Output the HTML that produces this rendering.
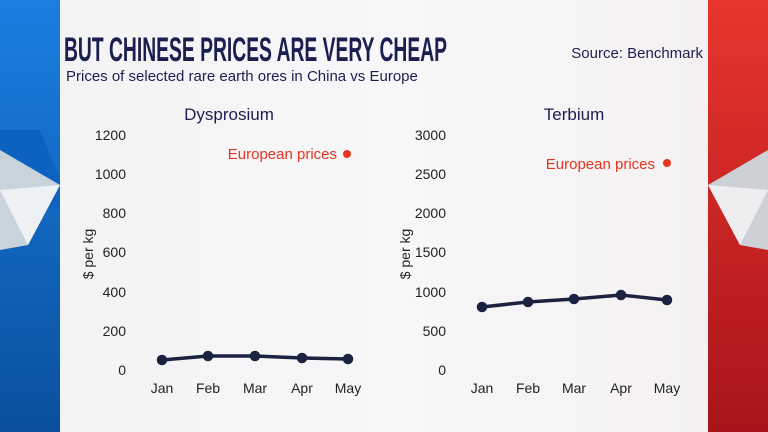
<!DOCTYPE html>
<html><head><meta charset="utf-8"><style>
body{margin:0;width:768px;height:432px;overflow:hidden;font-family:"Liberation Sans",sans-serif;}
.bg{position:absolute;left:0;top:0;width:768px;height:432px;}
</style></head><body>
<svg class="bg" width="768" height="432" viewBox="0 0 768 432">
<defs>
<linearGradient id="bl" x1="0" y1="0" x2="0" y2="1"><stop offset="0" stop-color="#1a7fe0"/><stop offset="1" stop-color="#0a4f9e"/></linearGradient>
<linearGradient id="rd" x1="0" y1="0" x2="0" y2="1"><stop offset="0" stop-color="#e8352e"/><stop offset="1" stop-color="#a8141a"/></linearGradient>
<linearGradient id="pn" x1="0" y1="0" x2="1" y2="0"><stop offset="0" stop-color="#f3f3f4"/><stop offset="0.5" stop-color="#f7f7f9"/><stop offset="1" stop-color="#f5f1f2"/></linearGradient>
</defs>
<rect x="0" y="0" width="60" height="432" fill="url(#bl)"/>
<polygon points="0,130 40,130 60,180 60,210 30,200 0,220" fill="#0d62c0"/>
<polygon points="0,150 60,185 28,245 0,250" fill="#c9d3dc"/>
<polygon points="0,190 60,185 28,245" fill="#eef1f4"/>
<rect x="708" y="0" width="60" height="432" fill="url(#rd)"/>
<polygon points="768,150 708,185 740,245 768,250" fill="#cdd0d4"/>
<polygon points="768,190 708,185 740,245" fill="#eeeef0"/>
<rect x="60" y="0" width="648" height="432" fill="url(#pn)"/>
<text x="64" y="61" font-family="Liberation Sans Narrow, Liberation Sans, sans-serif" font-weight="bold" font-size="34" fill="#1b1f50" textLength="383" lengthAdjust="spacingAndGlyphs">BUT CHINESE PRICES ARE VERY CHEAP</text>
<text x="703" y="58" text-anchor="end" font-size="15" fill="#1b1f50">Source: Benchmark</text>
<text x="66" y="81" font-size="15" fill="#1b1f50">Prices of selected rare earth ores in China vs Europe</text>
<g font-size="17" fill="#1b1f50" text-anchor="middle">
<text x="229" y="120">Dysprosium</text><text x="574" y="120">Terbium</text></g>
<g font-size="14" fill="#222" text-anchor="end">
<text x="126" y="140">1200</text><text x="126" y="179">1000</text><text x="126" y="218">800</text><text x="126" y="257">600</text><text x="126" y="297">400</text><text x="126" y="336">200</text><text x="126" y="375">0</text>
<text x="446" y="140">3000</text><text x="446" y="179">2500</text><text x="446" y="218">2000</text><text x="446" y="257">1500</text><text x="446" y="297">1000</text><text x="446" y="336">500</text><text x="446" y="375">0</text>
</g>
<g font-size="14" fill="#222" text-anchor="middle">
<text x="162" y="393">Jan</text><text x="208" y="393">Feb</text><text x="255" y="393">Mar</text><text x="302" y="393">Apr</text><text x="348" y="393">May</text>
<text x="482" y="393">Jan</text><text x="528" y="393">Feb</text><text x="574" y="393">Mar</text><text x="621" y="393">Apr</text><text x="667" y="393">May</text>
</g>
<text transform="translate(93,254) rotate(-90)" font-size="14" fill="#222" text-anchor="middle">$ per kg</text>
<text transform="translate(410,254) rotate(-90)" font-size="14" fill="#222" text-anchor="middle">$ per kg</text>
<g fill="#e8331f" font-size="15">
<text x="337" y="159" text-anchor="end">European prices</text><circle cx="347" cy="154" r="4"/>
<text x="655" y="169" text-anchor="end">European prices</text><circle cx="667" cy="163" r="4"/>
</g>
<g stroke="#1b2340" stroke-width="3.5" fill="#1b2340">
<polyline fill="none" points="162,360 208,356 255,356 302,358 348,359"/>
<circle cx="162" cy="360" r="3.5"/><circle cx="208" cy="356" r="3.5"/><circle cx="255" cy="356" r="3.5"/><circle cx="302" cy="358" r="3.5"/><circle cx="348" cy="359" r="3.5"/>
<polyline fill="none" points="482,307 528,302 574,299 621,295 667,300"/>
<circle cx="482" cy="307" r="3.5"/><circle cx="528" cy="302" r="3.5"/><circle cx="574" cy="299" r="3.5"/><circle cx="621" cy="295" r="3.5"/><circle cx="667" cy="300" r="3.5"/>
</g>
</svg>
</body></html>
